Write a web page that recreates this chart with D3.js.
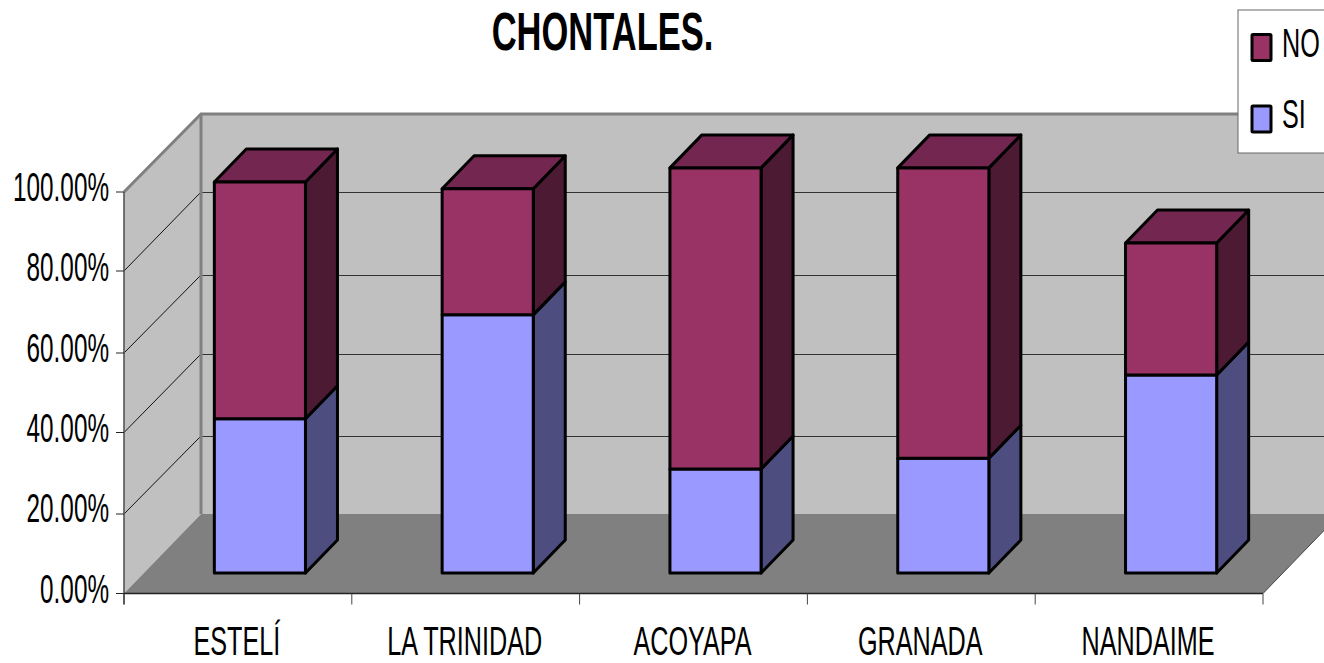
<!DOCTYPE html>
<html><head><meta charset="utf-8">
<script src="https://cdn.jsdelivr.net/npm/d3@7/dist/d3.min.js"></script>
<style>html,body{margin:0;padding:0;background:#fff;overflow:hidden}svg{display:block}text{font-family:"Liberation Sans",Arial,sans-serif;fill:#000}</style>
</head><body><svg id="c" width="1324" height="663"></svg>
<script>
const title = "CHONTALES.";
const categories = ["ESTELÍ","LA TRINIDAD","ACOYAPA","GRANADA","NANDAIME"];
const siValues = [38.4,64.3,25.9,28.6,49.3];
const noValues = [59.0,31.4,75.0,72.3,32.9];
const yTicks = [0,20,40,60,80,100];
const seriesNames = ["NO","SI"];

const svg = d3.select("#c");
const W = 1324;
const x = d3.scaleBand().domain(categories).range([124,1263]).paddingInner(0.6).paddingOuter(0.3);
const xOuter = d3.scaleBand().domain(categories).range([124,1263]);
const y = d3.scaleLinear().domain([0,100]).range([593.5,192]);
const yFront = d3.scaleLinear().domain(yTicks).range([593.5,514,432.5,353,271,192]);
const yBack = d3.scaleLinear().domain(yTicks).range([514,436,354,275,192,114]);
const wallDx = 77;
const barShift = {dx:22, dy:-20.5}, barDepth = {dx:32, dy:-33};
const tx = 0.675, cx = 0.7, sy = 1.13;
const poly = pts => pts.map(p=>p.join(",")).join(" ");

const x0=124, x1=1263, y0=y(0);
const xb=x0+wallDx, W2=x1+wallDx+10;
// walls and floor
svg.append("polygon").attr("points",poly([[xb,yBack(100)],[W2,yBack(100)],[W2,yBack(0)],[xb,yBack(0)]])).attr("fill","#c0c0c0");
svg.append("polygon").attr("points",poly([[x0,yFront(100)],[xb,yBack(100)],[xb,yBack(0)],[x0,y0]])).attr("fill","#c0c0c0");
svg.append("polygon").attr("points",poly([[x0,y0],[xb,yBack(0)],[x1+wallDx,yBack(0)],[x1,y0]])).attr("fill","#808080");
// gridlines
yTicks.filter(t=>t>0&&t<100).forEach(t=>{
  svg.append("line").attr("x1",x0).attr("y1",yFront(t)).attr("x2",xb-1).attr("y2",yBack(t)+1).attr("stroke","#111").attr("stroke-width",1);
});
yTicks.filter(t=>t>0&&t<100).forEach(t=>{
  svg.append("line").attr("x1",xb).attr("y1",yBack(t)+.5).attr("x2",W).attr("y2",yBack(t)+.5).attr("stroke","#333").attr("stroke-width",1);
});
// wall outlines
svg.append("polyline").attr("points",poly([[x0,yFront(100)],[xb,yBack(100)],[W2,yBack(100)]])).attr("fill","none").attr("stroke","#808080").attr("stroke-width",3);
svg.append("line").attr("x1",xb).attr("y1",yBack(100)).attr("x2",xb).attr("y2",yBack(0)).attr("stroke","#808080").attr("stroke-width",3);
svg.append("line").attr("x1",x1).attr("y1",y0).attr("x2",x1+wallDx).attr("y2",yBack(0)).attr("stroke","#444").attr("stroke-width",1);
// axes
svg.append("line").attr("x1",x0).attr("y1",yFront(100)).attr("x2",x0).attr("y2",y0+11).attr("stroke","#555").attr("stroke-width",1.6);
svg.append("line").attr("x1",x0).attr("y1",y0).attr("x2",x1).attr("y2",y0).attr("stroke","#222").attr("stroke-width",1.5);
yTicks.forEach(t=>{
  svg.append("line").attr("x1",116).attr("x2",x0).attr("y1",yFront(t)).attr("y2",yFront(t)).attr("stroke","#222").attr("stroke-width",1);
  svg.append("text").attr("transform",`translate(109,${y(t)+9}) scale(${tx},${sy})`).attr("text-anchor","end").attr("font-size",36).text(t.toFixed(2)+"%");
});
categories.forEach(c=>{
  svg.append("line").attr("x1",xOuter(c)).attr("x2",xOuter(c)).attr("y1",y0).attr("y2",y0+11).attr("stroke","#444").attr("stroke-width",1);
  svg.append("text").attr("transform",`translate(${xOuter(c)+xOuter.bandwidth()/2-1},655) scale(${cx},${sy})`).attr("text-anchor","middle").attr("font-size",36).text(c);
});
svg.append("line").attr("x1",x1).attr("x2",x1).attr("y1",y0).attr("y2",y0+11).attr("stroke","#444").attr("stroke-width",1);
// bars
const SW=3;
function seg(c,a,b,front,side,top){
  const l=x(c)+barShift.dx, r=l+x.bandwidth(), t=y(b)+barShift.dy, bt=y(a)+barShift.dy;
  const d=barDepth;
  const g=svg.append("g").attr("stroke","#000").attr("stroke-width",SW).attr("stroke-linejoin","round");
  g.append("polygon").attr("points",poly([[r,t],[r+d.dx,t+d.dy],[r+d.dx,bt+d.dy],[r,bt]])).attr("fill",side);
  if(top) g.append("polygon").attr("points",poly([[l,t],[l+d.dx,t+d.dy],[r+d.dx,t+d.dy],[r,t]])).attr("fill",top);
  g.append("rect").attr("x",l).attr("y",t).attr("width",r-l).attr("height",bt-t).attr("fill",front);
}
categories.forEach((c,i)=>{
  seg(c,0,siValues[i],"#9999ff","#4d4d80",null);
  seg(c,siValues[i],siValues[i]+noValues[i],"#993366","#4d1a33","#732650");
});
// legend
svg.append("rect").attr("x",1238).attr("y",10).attr("width",120).attr("height",143).attr("fill","#fff").attr("stroke","#666").attr("stroke-width",1);
const swatch={NO:"#993366",SI:"#9999ff"}, legY={NO:34.5,SI:106}, legB={NO:57,SI:128};
seriesNames.forEach(n=>{
  svg.append("rect").attr("x",1252).attr("y",legY[n]).attr("width",19).attr("height",26).attr("fill",swatch[n]).attr("stroke","#000").attr("stroke-width",3).attr("rx",1);
  svg.append("text").attr("transform",`translate(1282,${legB[n]}) scale(${cx},${sy})`).attr("font-size",36).text(n);
});
// title
svg.append("text").attr("transform","translate(602.5,50) scale(0.75,1.15)").attr("text-anchor","middle").attr("font-size",46).attr("font-weight","bold").text(title);
</script></body></html>
